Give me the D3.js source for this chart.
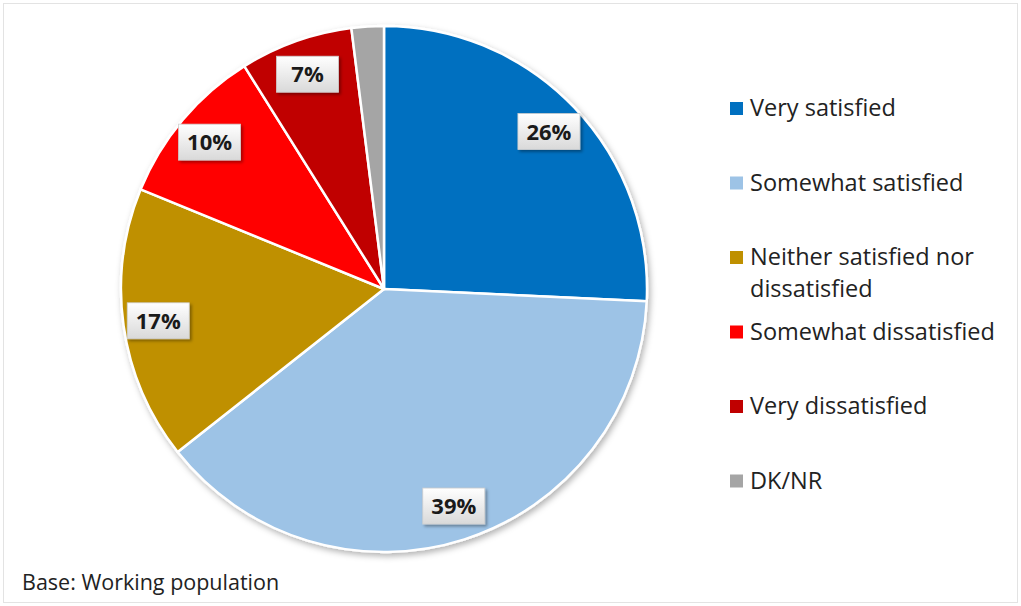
<!DOCTYPE html>
<html><head><meta charset="utf-8">
<script src="https://cdn.jsdelivr.net/npm/d3@7"></script>
<style>body{margin:0;background:#fff;}svg{display:block;}</style>
</head><body>
<svg id="c" width="1021" height="606"></svg>
<script>
const categories = ["Very satisfied","Somewhat satisfied","Neither satisfied nor dissatisfied","Somewhat dissatisfied","Very dissatisfied","DK/NR"];
const values = [26, 39, 17, 10, 7, 2];
const labels = ["26%","39%","17%","10%","7%",""];
const legendLines = [["Very satisfied"],["Somewhat satisfied"],["Neither satisfied nor","dissatisfied"],["Somewhat dissatisfied"],["Very dissatisfied"],["DK/NR"]];
const colors = ["#0070C0","#9DC3E6","#BF9000","#FF0000","#C00000","#A5A5A5"];
const footnote = "Base: Working population";

const svg = d3.select("#c");
const font = "'Open Sans', sans-serif";
const defs = svg.append("defs");
const sh = defs.append("filter").attr("id","sh").attr("x","-20%").attr("y","-20%").attr("width","140%").attr("height","140%");
sh.append("feDropShadow").attr("dx",2).attr("dy",3).attr("stdDeviation",3).attr("flood-color","#000").attr("flood-opacity",0.3);
const lsh = defs.append("filter").attr("id","lsh").attr("x","-30%").attr("y","-30%").attr("width","160%").attr("height","160%");
lsh.append("feDropShadow").attr("dx",2).attr("dy",2).attr("stdDeviation",1.5).attr("flood-color","#000").attr("flood-opacity",0.35);
const grad = defs.append("linearGradient").attr("id","lg").attr("x1",0).attr("y1",0).attr("x2",0).attr("y2",1);
grad.append("stop").attr("offset","0%").attr("stop-color","#ffffff");
grad.append("stop").attr("offset","100%").attr("stop-color","#d9d9d9");

// frame
svg.append("rect").attr("x",3.5).attr("y",3.5).attr("width",1014).attr("height",599)
  .attr("fill","#fff").attr("stroke","#e3e3e3").attr("stroke-width",1);

const cx = 384, cy = 289, R = 263;
const pie = d3.pie().value(d => d).sort(null);
const arcs = pie(values);
const arc = d3.arc().innerRadius(0).outerRadius(R);
const g = svg.append("g").attr("transform",`translate(${cx},${cy})`);
g.append("g").attr("filter","url(#sh)").selectAll("path").data(arcs).join("path")
  .attr("d", arc).attr("fill",(d,i)=>colors[i]).attr("stroke","#fff").attr("stroke-width",2.5).attr("stroke-linejoin","round");

const labelArc = d3.arc().innerRadius(228).outerRadius(228);
const lg = g.selectAll("g.lab").data(arcs.filter((d,i)=>labels[i])).join("g")
  .attr("transform", d => `translate(${labelArc.centroid(d)})`);
lg.append("rect").attr("x",-31).attr("y",-18).attr("width",62).attr("height",36)
  .attr("fill","url(#lg)").attr("stroke","#cfcfcf").attr("stroke-width",0.8).attr("filter","url(#lsh)");
lg.append("text").attr("text-anchor","middle").attr("dy","0.36em")
  .attr("font-family",font).attr("font-weight","bold").attr("font-size",22).attr("fill","#1a1a1a")
  .text(d => labels[d.index]);

// legend
const leg = svg.append("g");
legendLines.forEach((lines,i) => {
  const y = 116 + i*74.5;
  leg.append("rect").attr("x",730).attr("y",y-14).attr("width",13).attr("height",13).attr("fill",colors[i]);
  lines.forEach((t,j) => {
    leg.append("text").attr("x",750).attr("y",y + j*32).attr("font-family",font).attr("font-size",23.5)
      .attr("fill","#222").text(t);
  });
});

svg.append("text").attr("x",22).attr("y",590).attr("font-family",font).attr("font-size",21.5)
  .attr("fill","#222").text(footnote);
</script>
</body></html>
